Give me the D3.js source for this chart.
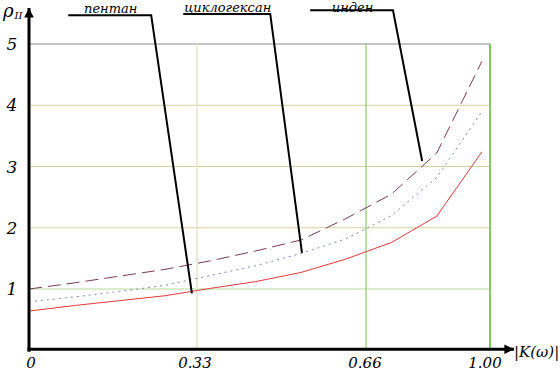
<!DOCTYPE html>
<html><head><meta charset="utf-8">
<script src="https://cdn.jsdelivr.net/npm/d3@7"></script>
<style>
html,body{margin:0;padding:0;background:#fff;}
svg{display:block;}
</style></head>
<body>
<svg id="chart" width="560" height="371"></svg>
<script>
// ---- data ----
const kValues     = [0, 0.089, 0.178, 0.267, 0.356, 0.444, 0.533, 0.621, 0.730, 0.854, 0.978];
const pentane     = [0.64, 0.73, 0.81, 0.89, 1.01, 1.12, 1.27, 1.49, 1.76, 2.19, 3.24];
const cyclohexane = [0.79, 0.87, 0.96, 1.06, 1.22, 1.38, 1.58, 1.82, 2.20, 2.82, 3.90];
const indene      = [1.00, 1.10, 1.21, 1.32, 1.46, 1.62, 1.80, 2.15, 2.55, 3.22, 4.72];
const xTicks      = [0, 0.33, 0.66, 1.00];
const xTickLabels = ["0", "0.33", "0.66", "1.00"];
const yTicks      = [1, 2, 3, 4, 5];
const seriesNames = ["пентан", "циклогексан", "инден"];
// annotation: underline from/to K, label level rho, pointer target (K, rho)
const annotK0     = [0.077, 0.303, 0.551];
const annotK1     = [0.240, 0.473, 0.734];
const annotRho    = [5.47, 5.49, 5.55];
const targetK     = [0.320, 0.535, 0.814];
const targetRho   = [0.93, 1.59, 3.09];

const FONT = "DejaVu Serif, serif";
const svg = d3.select("#chart");
const x = d3.scaleLinear().domain([0, 0.33, 0.66, 1.00]).range([29, 197, 366, 490]);
const y = d3.scaleLinear().domain([0, 5]).range([350.25, 44]);

// grid
const hColors = {1:"#b6d99a", 2:"#d2d3a0", 3:"#d2d3a0", 4:"#d2d3a0", 5:"#8a8a8a"};
svg.append("g").selectAll("line").data(yTicks).join("line")
  .attr("x1", x(0)).attr("x2", x(1.00))
  .attr("y1", d => y(d)).attr("y2", d => y(d))
  .attr("stroke", d => hColors[d]).attr("stroke-width", 1.2);
const vColors = ["none", "#e3e6cc", "#8fca72", "#7dcc5a"];
const vWidths = [0, 1.5, 1.2, 2];
svg.append("g").selectAll("line").data(xTicks).join("line")
  .attr("x1", d => x(d)).attr("x2", d => x(d))
  .attr("y1", y(5)).attr("y2", y(0))
  .attr("stroke", (d,i) => vColors[i]).attr("stroke-width", (d,i) => vWidths[i]);

// series
const line = d3.line().x((d,i) => x(kValues[i])).y(d => y(d));
const seriesData = [pentane, cyclohexane, indene];
const sColors = ["#e03a3a", "#7a86a8", "#7a3a5a"];
const sDash = [null, "2,4", "13,6"];
svg.append("g").selectAll("path").data(seriesData).join("path")
  .attr("d", line).attr("fill", "none")
  .attr("stroke", (d,i) => sColors[i]).attr("stroke-width", 1)
  .attr("stroke-dasharray", (d,i) => sDash[i]);

// axes (thick with arrows)
svg.append("defs").append("marker").attr("id","arr")
  .attr("viewBox","0 0 10 10").attr("refX",10).attr("refY",5)
  .attr("markerWidth",3.2).attr("markerHeight",3.2).attr("orient","auto")
  .attr("markerUnits","strokeWidth")
  .append("path").attr("d","M0,0L10,5L0,10z").attr("fill","#000");
svg.append("line").attr("x1", x(0)).attr("x2", x(0)).attr("y1", y(0)+1.5).attr("y2", 8)
  .attr("stroke","#000").attr("stroke-width",3).attr("marker-end","url(#arr)");
svg.append("line").attr("x1", x(0)-1.5).attr("x2", 514).attr("y1", y(0)-1).attr("y2", y(0)-1)
  .attr("stroke","#000").attr("stroke-width",3).attr("marker-end","url(#arr)");

const T = (sel) => sel.style("font-family", FONT).style("font-style", "italic").attr("fill", "#000");

// tick labels
T(svg.append("g").selectAll("text").data(yTicks).join("text")
  .attr("x", 12).attr("y", d => y(d) + 6).attr("text-anchor","middle")
  .attr("font-size", 17).text(d => d));
T(svg.append("g").selectAll("text").data(xTicks).join("text")
  .attr("x", (d,i) => x(d) + [2,-2,-1,-5][i]).attr("y", 368).attr("text-anchor","middle")
  .attr("font-size", 15).text((d,i) => xTickLabels[i]));

// axis titles
const yt = T(svg.append("text").attr("x", 3).attr("y", 17).attr("font-size", 18));
yt.append("tspan").text("ρ");
yt.append("tspan").attr("font-size", 10).attr("dy", 2).attr("dx", 1).text("II");
T(svg.append("text").attr("x", 514).attr("y", 357).attr("font-size", 15).text("|K(ω)|"));

// annotations
const ann = svg.append("g");
seriesNames.forEach((name, i) => {
  ann.append("path")
    .attr("d", d3.line()([[x(annotK0[i]), y(annotRho[i])], [x(annotK1[i]), y(annotRho[i])], [x(targetK[i]), y(targetRho[i])]]))
    .attr("fill","none").attr("stroke","#000").attr("stroke-width",2);
  T(ann.append("text").attr("x", (x(annotK0[i]) + x(annotK1[i]))/2 + 1).attr("y", Math.max(y(annotRho[i]) - 2, 12))
    .attr("text-anchor","middle").attr("font-size", 13).text(name));
});
</script>
</body></html>
